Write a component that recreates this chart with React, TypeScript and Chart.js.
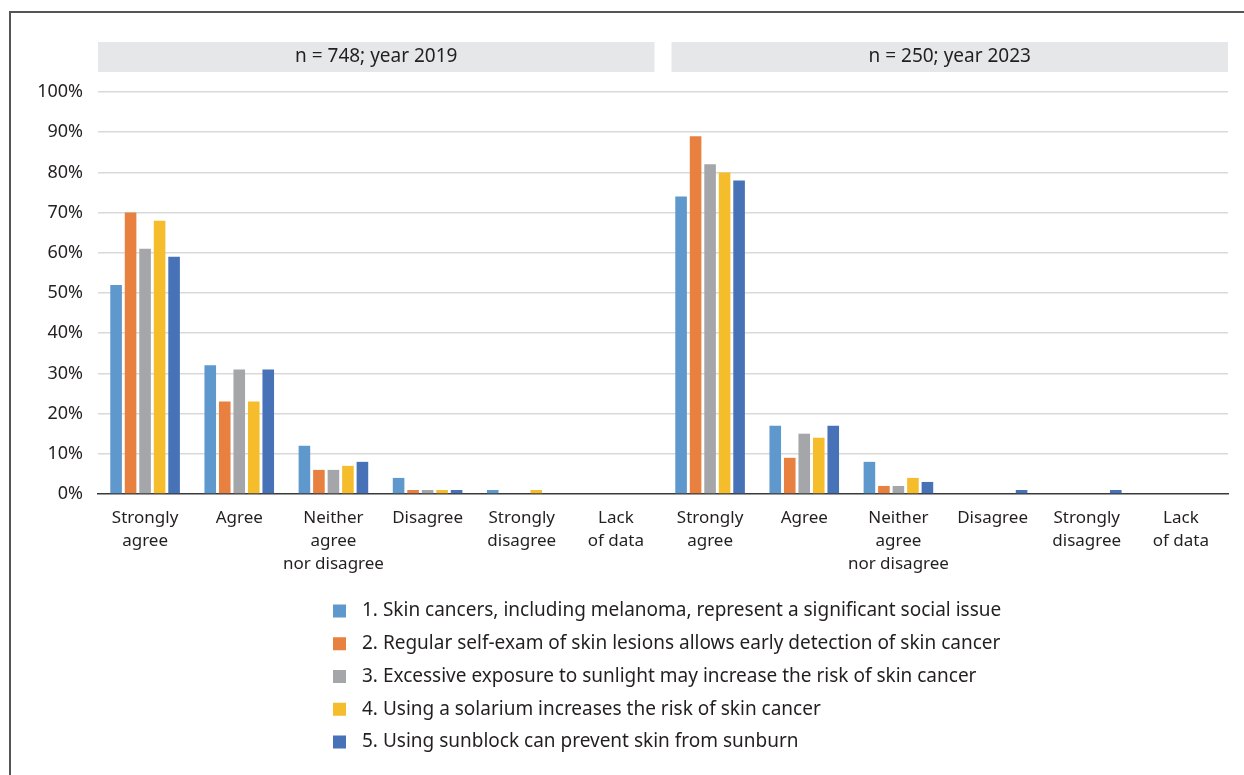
import React, { useEffect, useRef } from "react";
import { Chart, registerables } from "chart.js";

Chart.register(...registerables);

// ---- Data ----
const panelTitles = ["n = 748; year 2019", "n = 250; year 2023"];

const answerLabels: string[][] = [
  ["Strongly", "agree"],
  ["Agree"],
  ["Neither", "agree", "nor disagree"],
  ["Disagree"],
  ["Strongly", "disagree"],
  ["Lack", "of data"],
];

// 12 categories: 6 answers for 2019, then 6 answers for 2023
const categories: string[][] = [...answerLabels, ...answerLabels];

const seriesNames = [
  "1. Skin cancers, including melanoma, represent a significant social issue",
  "2. Regular self-exam of skin lesions allows early detection of skin cancer",
  "3. Excessive exposure to sunlight may increase the risk of skin cancer",
  "4. Using a solarium increases the risk of skin cancer",
  "5. Using sunblock can prevent skin from sunburn",
];

const seriesColors = ["#5f98cd", "#e8813f", "#a5a6a9", "#f5bd2b", "#4772b8"];

//                2019: SA, A, N, D, SD, Lack    2023: SA, A, N, D, SD, Lack
const statement1 = [52, 32, 12, 4, 1, 0, 74, 17, 8, 0, 0, 0];
const statement2 = [70, 23, 6, 1, 0, 0, 89, 9, 2, 0, 0, 0];
const statement3 = [61, 31, 6, 1, 0, 0, 82, 15, 2, 0, 0, 0];
const statement4 = [68, 23, 7, 1, 1, 0, 80, 14, 4, 0, 0, 0];
const statement5 = [59, 31, 8, 1, 0, 0, 78, 17, 3, 1, 1, 0];

const seriesValues = [statement1, statement2, statement3, statement4, statement5];

const yTicks = [0, 10, 20, 30, 40, 50, 60, 70, 80, 90, 100];

const FONT = "'Noto Sans', sans-serif";
const TEXT = "#231f20";

const decorPlugin = {
  id: "decor",
  beforeDraw(chart: any) {
    const { ctx, chartArea, width, height } = chart;
    ctx.save();
    ctx.fillStyle = "#ffffff";
    ctx.fillRect(0, 0, width, height);

    // frame (top and left edges visible)
    ctx.strokeStyle = "#555555";
    ctx.lineWidth = 2;
    ctx.beginPath();
    ctx.moveTo(10, height);
    ctx.lineTo(10, 12);
    ctx.lineTo(width, 12);
    ctx.stroke();

    // panel headers
    const mid = (chartArea.left + chartArea.right) / 2;
    const gap = 8.5;
    const boxes = [
      [chartArea.left, mid - gap],
      [mid + gap, chartArea.right],
    ];
    const top = 42;
    const h = 30;
    ctx.font = `19px ${FONT}`;
    ctx.textAlign = "center";
    ctx.textBaseline = "middle";
    boxes.forEach(([l, r], i) => {
      ctx.fillStyle = "#e6e7e8";
      ctx.fillRect(l, top, r - l, h);
      ctx.fillStyle = TEXT;
      ctx.fillText(panelTitles[i], (l + r) / 2, top + h / 2);
    });
    ctx.restore();
  },
  afterDraw(chart: any) {
    const { ctx } = chart;
    ctx.save();
    ctx.font = `19px ${FONT}`;
    ctx.textAlign = "left";
    ctx.textBaseline = "middle";
    const sqX = 333;
    const sq = 13;
    const txtX = 362;
    const y0 = 611;
    const dy = 32.75;
    chart.data.datasets.forEach((ds: any, i: number) => {
      const y = y0 + i * dy;
      ctx.fillStyle = ds.backgroundColor;
      ctx.fillRect(sqX, y - sq / 2, sq, sq);
      ctx.fillStyle = TEXT;
      ctx.fillText(ds.label, txtX, y);
    });
    ctx.restore();
  },
};

export default function App() {
  const canvasRef = useRef<HTMLCanvasElement | null>(null);

  useEffect(() => {
    document.body.style.margin = "0";
    const canvas = canvasRef.current;
    if (!canvas) return;
    const chart = new Chart(canvas, {
      type: "bar",
      data: {
        labels: categories,
        datasets: seriesNames.map((name, i) => ({
          label: name,
          data: seriesValues[i],
          backgroundColor: seriesColors[i],
          borderWidth: 0,
          categoryPercentage: 0.77,
          barPercentage: 0.8,
        })),
      },
      options: {
        responsive: false,
        animation: false,
        events: [],
        layout: { padding: { top: 92, left: 0, right: 16, bottom: 181 } },
        plugins: {
          legend: { display: false },
          tooltip: { enabled: false },
          title: { display: false },
        },
        scales: {
          x: {
            grid: { display: false, drawTicks: false },
            border: { display: true, color: "#3a3a3a", width: 1.5 },
            ticks: {
              autoSkip: false,
              maxRotation: 0,
              minRotation: 0,
              padding: 13,
              color: TEXT,
              font: { family: FONT, size: 17, lineHeight: 1.35 },
            },
            afterFit(scale: any) {
              scale.height = 100;
            },
          },
          y: {
            min: 0,
            max: 100,
            afterBuildTicks(scale: any) {
              scale.ticks = yTicks.map((v) => ({ value: v }));
            },
            grid: {
              drawTicks: false,
              color: (c: any) => (c.tick && c.tick.value === 0 ? "rgba(0,0,0,0)" : "#d9d9d9"),
              lineWidth: 1.5,
            },
            border: { display: false },
            ticks: {
              padding: 15,
              color: TEXT,
              font: { family: FONT, size: 18 },
              callback: (v: any) => `${v}%`,
            },
            afterFit(scale: any) {
              scale.width = 98;
            },
          },
        },
      },
      plugins: [decorPlugin],
    });
    return () => chart.destroy();
  }, []);

  return (
    <div style={{ position: "absolute", left: 0, top: 0, width: 1244, height: 775 }}>
      <canvas ref={canvasRef} width={1244} height={775} style={{ display: "block" }} />
    </div>
  );
}
